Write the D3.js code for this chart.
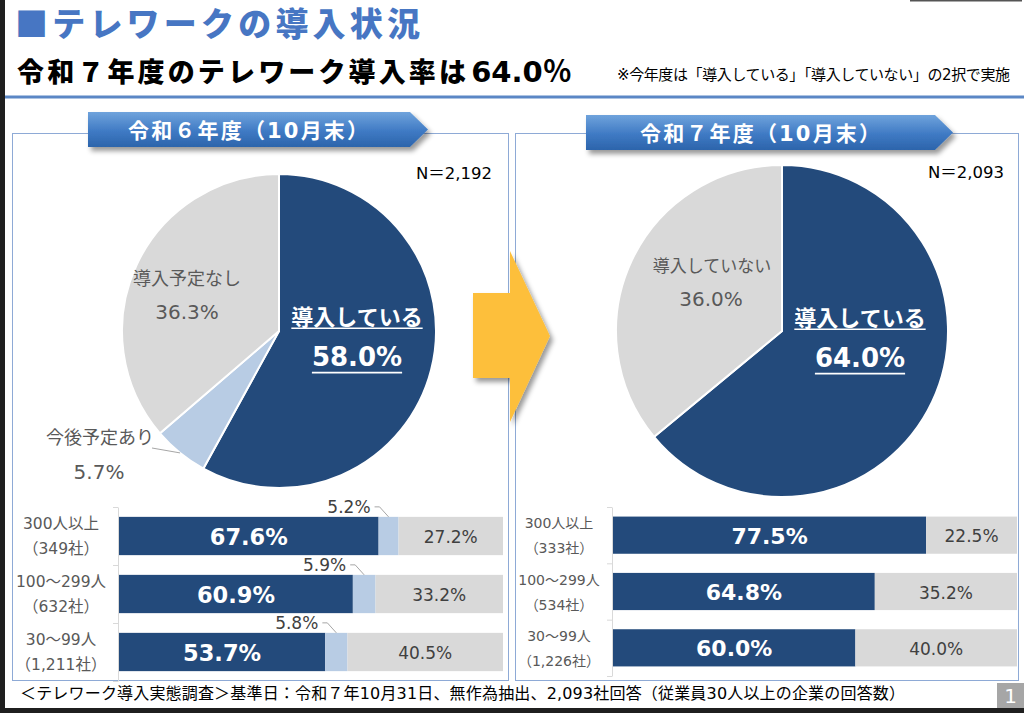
<!DOCTYPE html>
<html lang="ja">
<head>
<meta charset="UTF-8">
<title>テレワークの導入状況</title>
<script src="https://d3js.org/d3.v7.min.js"></script>
<style>
  html, body { margin: 0; padding: 0; background: #fff; }
  svg { display: block; font-family: "DejaVu Sans", "Noto Sans CJK JP", sans-serif; }
  .jp { font-family: "Noto Sans CJK JP", sans-serif; }
</style>
</head>
<body>
<svg width="1024" height="713"></svg>
<script>
  // ---- data ----
  const pieCats6 = ["導入している", "今後予定あり", "導入予定なし"];
  const pieVals6 = [58.0, 5.7, 36.3];
  const pieCats7 = ["導入している", "導入していない"];
  const pieVals7 = [64.0, 36.0];

  const sizeCats6 = [["300人以上", "（349社）"], ["100～299人", "（632社）"], ["30～99人", "（1,211社）"]];
  const introduced6 = [67.6, 60.9, 53.7];
  const planned6 = [5.2, 5.9, 5.8];
  const notPlanned6 = [27.2, 33.2, 40.5];

  const sizeCats7 = [["300人以上", "（333社）"], ["100～299人", "（534社）"], ["30～99人", "（1,226社）"]];
  const introduced7 = [77.5, 64.8, 60.0];
  const notIntroduced7 = [22.5, 35.2, 40.0];

  const NAVY = "#234a7b", LIGHT = "#b8cce4", GRAY = "#d9d9d9";

  const svg = d3.select("svg");
  const defs = svg.append("defs");

  const grad = defs.append("linearGradient").attr("id", "bannerGrad")
    .attr("x1", 0).attr("y1", 0).attr("x2", 0).attr("y2", 1);
  grad.append("stop").attr("offset", "0%").attr("stop-color", "#6fa3dc");
  grad.append("stop").attr("offset", "55%").attr("stop-color", "#3f7ac4");
  grad.append("stop").attr("offset", "100%").attr("stop-color", "#2c64ab");

  const shadow = defs.append("filter").attr("id", "shadow")
    .attr("x", "-20%").attr("y", "-20%").attr("width", "150%").attr("height", "150%");
  shadow.append("feDropShadow").attr("dx", 3).attr("dy", 4).attr("stdDeviation", 2.5)
    .attr("flood-color", "#000").attr("flood-opacity", 0.4);

  // ---- page frame ----
  svg.append("rect").attr("x", 0).attr("y", 0).attr("width", 5).attr("height", 713).attr("fill", "#1f1f1f");
  svg.append("rect").attr("x", 0).attr("y", 708).attr("width", 1024).attr("height", 5).attr("fill", "#1f1f1f");
  svg.append("rect").attr("x", 910).attr("y", 0).attr("width", 112).attr("height", 1.5).attr("fill", "#555");

  svg.append("text").attr("class", "jp").attr("x", 15).attr("y", 36)
    .attr("font-size", 33).attr("font-weight", 900).attr("fill", "#4776c3")
    .attr("textLength", 405).attr("lengthAdjust", "spacing")
    .text("■テレワークの導入状況");

  const sub = svg.append("text").attr("x", 17).attr("y", 82)
    .attr("font-size", 27).attr("font-weight", 700).attr("fill", "#000");
  sub.append("tspan").attr("class", "jp").attr("font-weight", 900)
    .attr("textLength", 449).attr("lengthAdjust", "spacing").text("令和７年度のテレワーク導入率は");
  sub.append("tspan").attr("dx", 2).attr("font-size", 29).text("64.0％");

  svg.append("text").attr("x", 617).attr("y", 80)
    .attr("font-size", 15).attr("fill", "#000")
    .attr("textLength", 393).attr("lengthAdjust", "spacing")
    .text("※今年度は「導入している」「導入していない」の2択で実施");

  svg.append("rect").attr("x", 5).attr("y", 95.5).attr("width", 1019).attr("height", 3).attr("fill", "#5b87c5");

  // panels
  [[12, 496], [515, 503]].forEach(([x, w]) => {
    svg.append("rect").attr("x", x + 0.5).attr("y", 133.5).attr("width", w).attr("height", 547)
      .attr("fill", "none").attr("stroke", "#8eaad6").attr("stroke-width", 1);
  });

  // banners
  function banner(x0, x1, y0, y1, label, cx) {
    const tip = 18, ym = (y0 + y1) / 2;
    svg.append("path")
      .attr("d", `M${x0},${y0}L${x1 - tip},${y0}L${x1},${ym}L${x1 - tip},${y1}L${x0},${y1}Z`)
      .attr("fill", "url(#bannerGrad)").attr("filter", "url(#shadow)");
    svg.append("text").attr("x", cx).attr("y", ym + 1)
      .attr("text-anchor", "middle").attr("dominant-baseline", "central")
      .attr("font-size", 21).attr("font-weight", 700).attr("fill", "#fff")
      .attr("textLength", 240).attr("lengthAdjust", "spacing")
      .text(label);
  }
  banner(88, 428, 112, 147, "令和６年度（10月末）", 248);
  banner(586, 953, 115, 150, "令和７年度（10月末）", 760);

  // ---- pies ----
  function drawPie(cx, cy, r, vals, colors) {
    const g = svg.append("g").attr("transform", `translate(${cx},${cy})`);
    const arcs = d3.pie().sort(null).value(d => d)(vals);
    const arc = d3.arc().innerRadius(0).outerRadius(r);
    g.selectAll("path").data(arcs).join("path")
      .attr("d", arc)
      .attr("fill", (d, i) => colors[i])
      .attr("stroke", "#fff").attr("stroke-width", 2);
    return { g, arcs, r };
  }

  function underlined(g, x, y, size, str, cls) {
    const t = g.append("text").attr("x", x).attr("y", y)
      .attr("class", cls || null)
      .attr("text-anchor", "middle").attr("dominant-baseline", "central")
      .attr("font-size", size).attr("font-weight", 700).attr("fill", "#fff")
      .text(str);
    const w = t.node().getComputedTextLength();
    g.append("line").attr("x1", x - w / 2).attr("x2", x + w / 2)
      .attr("y1", y + size * 0.6).attr("y2", y + size * 0.6)
      .attr("stroke", "#fff").attr("stroke-width", 1.6);
  }

  function grayLabel(g, x, y, size, str) {
    g.append("text").attr("x", x).attr("y", y)
      .attr("text-anchor", "middle").attr("dominant-baseline", "central")
      .attr("font-size", size).attr("fill", "#595959").text(str);
  }

  const fmt = d => d.toFixed(1) + "%";

  const p6 = drawPie(279, 331, 157, pieVals6, [NAVY, LIGHT, GRAY]);
  underlined(p6.g, 78, -16, 22, pieCats6[0], "jp");
  underlined(p6.g, 78, 26, 26, fmt(pieVals6[0]));
  grayLabel(p6.g, -92, -53, 18, pieCats6[2]);
  grayLabel(p6.g, -92, -19, 20, fmt(pieVals6[2]));
  grayLabel(p6.g, -179, 106, 18, pieCats6[1]);
  grayLabel(p6.g, -180, 141, 20, fmt(pieVals6[1]));
  {
    const a = p6.arcs[1], mid = (a.startAngle + a.endAngle) / 2;
    const ex = Math.sin(mid) * p6.r, ey = -Math.cos(mid) * p6.r;
    p6.g.append("line").attr("x1", -127).attr("y1", 117).attr("x2", ex).attr("y2", ey)
      .attr("stroke", "#a6a6a6").attr("stroke-width", 1);
  }
  svg.append("text").attr("x", 492).attr("y", 173).attr("text-anchor", "end")
    .attr("dominant-baseline", "central").attr("font-size", 16.5).attr("fill", "#000").text("N＝2,192");

  const p7 = drawPie(782, 331, 166, pieVals7, [NAVY, GRAY]);
  underlined(p7.g, 78, -15, 22, pieCats7[0], "jp");
  underlined(p7.g, 78, 27, 26, fmt(pieVals7[0]));
  grayLabel(p7.g, -70, -65, 17, pieCats7[1]);
  grayLabel(p7.g, -71, -32, 20, fmt(pieVals7[1]));
  svg.append("text").attr("x", 1004).attr("y", 172).attr("text-anchor", "end")
    .attr("dominant-baseline", "central").attr("font-size", 16.5).attr("fill", "#000").text("N＝2,093");

  // ---- arrow ----
  svg.append("path")
    .attr("d", "M473,293L510,293L510,251L550,336L510,422L510,378L473,378Z")
    .attr("fill", "#fdbf3b").attr("filter", "url(#shadow)");

  // ---- stacked bars ----
  function drawBars(cfg) {
    const keys = cfg.series.map(s => s.key);
    const rows = cfg.cats.map((c, i) => {
      const o = { cat: c };
      cfg.series.forEach(s => { o[s.key] = s.values[i]; });
      return o;
    });
    const stacked = d3.stack().keys(keys)(rows);
    const x = d3.scaleLinear().domain([0, 100]).range([cfg.x0, cfg.x1]);
    const y = d3.scaleBand().domain(d3.range(cfg.cats.length)).range([cfg.y0, cfg.y1])
      .paddingInner(0.34).paddingOuter(0.17);

    // axis with ticks at category boundaries
    const yb = d3.scaleLinear().domain([0, cfg.cats.length]).range([cfg.y0, cfg.y1]);
    const ax = svg.append("g").attr("transform", `translate(${cfg.x0 - 1},0)`)
      .call(d3.axisLeft(yb).tickValues(d3.range(cfg.cats.length + 1)).tickSize(5).tickSizeOuter(0).tickFormat(""));
    ax.selectAll("path,line").attr("stroke", "#d9d9d9");

    const g = svg.append("g");
    stacked.forEach((layer, li) => {
      const s = cfg.series[li];
      g.selectAll(null).data(layer).join("rect")
        .attr("x", d => x(d[0])).attr("width", d => x(d[1]) - x(d[0]))
        .attr("y", (d, i) => y(i)).attr("height", y.bandwidth())
        .attr("fill", s.color);

      layer.forEach((d, i) => {
        const mx = (x(d[0]) + x(d[1])) / 2, my = y(i) + y.bandwidth() / 2;
        const v = s.values[i];
        if (s.style === "navy") {
          g.append("text").attr("x", mx).attr("y", my + 1).attr("text-anchor", "middle")
            .attr("dominant-baseline", "central").attr("font-size", cfg.bigSize).attr("font-weight", 700)
            .attr("fill", "#fff").text(fmt(v));
        } else if (s.style === "gray") {
          g.append("text").attr("x", mx).attr("y", my + 1).attr("text-anchor", "middle")
            .attr("dominant-baseline", "central").attr("font-size", 17)
            .attr("fill", "#404040").text(fmt(v));
        } else {
          const top = y(i), ly = top - 10;
          g.append("text").attr("x", mx - 18).attr("y", ly).attr("text-anchor", "end")
            .attr("dominant-baseline", "central").attr("font-size", 17)
            .attr("fill", "#404040").text(fmt(v));
          g.append("path").attr("d", `M${mx - 14},${ly}L${mx - 9},${ly}L${mx},${top}`)
            .attr("fill", "none").attr("stroke", "#a6a6a6").attr("stroke-width", 1);
        }
      });
    });

    cfg.cats.forEach((c, i) => {
      const cy = y(i) + y.bandwidth() / 2;
      c.forEach((line, k) => {
        svg.append("text").attr("x", cfg.labelX).attr("y", cy + (k === 0 ? -12 : 13))
          .attr("text-anchor", "middle").attr("dominant-baseline", "central")
          .attr("font-size", cfg.labelSize).attr("fill", "#595959").text(line);
      });
    });
  }

  drawBars({
    cats: sizeCats6, x0: 119, x1: 503, y0: 507, y1: 681, labelX: 61, labelSize: 15.5, bigSize: 22.5,
    series: [
      { key: "introduced", values: introduced6, color: NAVY, style: "navy" },
      { key: "planned", values: planned6, color: LIGHT, style: "small" },
      { key: "notPlanned", values: notPlanned6, color: GRAY, style: "gray" }
    ]
  });

  drawBars({
    cats: sizeCats7, x0: 613, x1: 1017, y0: 507, y1: 676, labelX: 559, labelSize: 14, bigSize: 22,
    series: [
      { key: "introduced", values: introduced7, color: NAVY, style: "navy" },
      { key: "notIntroduced", values: notIntroduced7, color: GRAY, style: "gray" }
    ]
  });

  // ---- footer ----
  svg.append("text").attr("x", 20).attr("y", 693).attr("dominant-baseline", "central")
    .attr("font-size", 16).attr("fill", "#000")
    .attr("textLength", 885).attr("lengthAdjust", "spacing")
    .text("＜テレワーク導入実態調査＞基準日：令和７年10月31日、無作為抽出、2,093社回答（従業員30人以上の企業の回答数）");

  svg.append("rect").attr("x", 997).attr("y", 683).attr("width", 27).attr("height", 25).attr("fill", "#a6a6a6");
  svg.append("text").attr("x", 1010.5).attr("y", 696).attr("text-anchor", "middle")
    .attr("dominant-baseline", "central").attr("font-size", 20).attr("fill", "#fff").text("1");
</script>
</body>
</html>
